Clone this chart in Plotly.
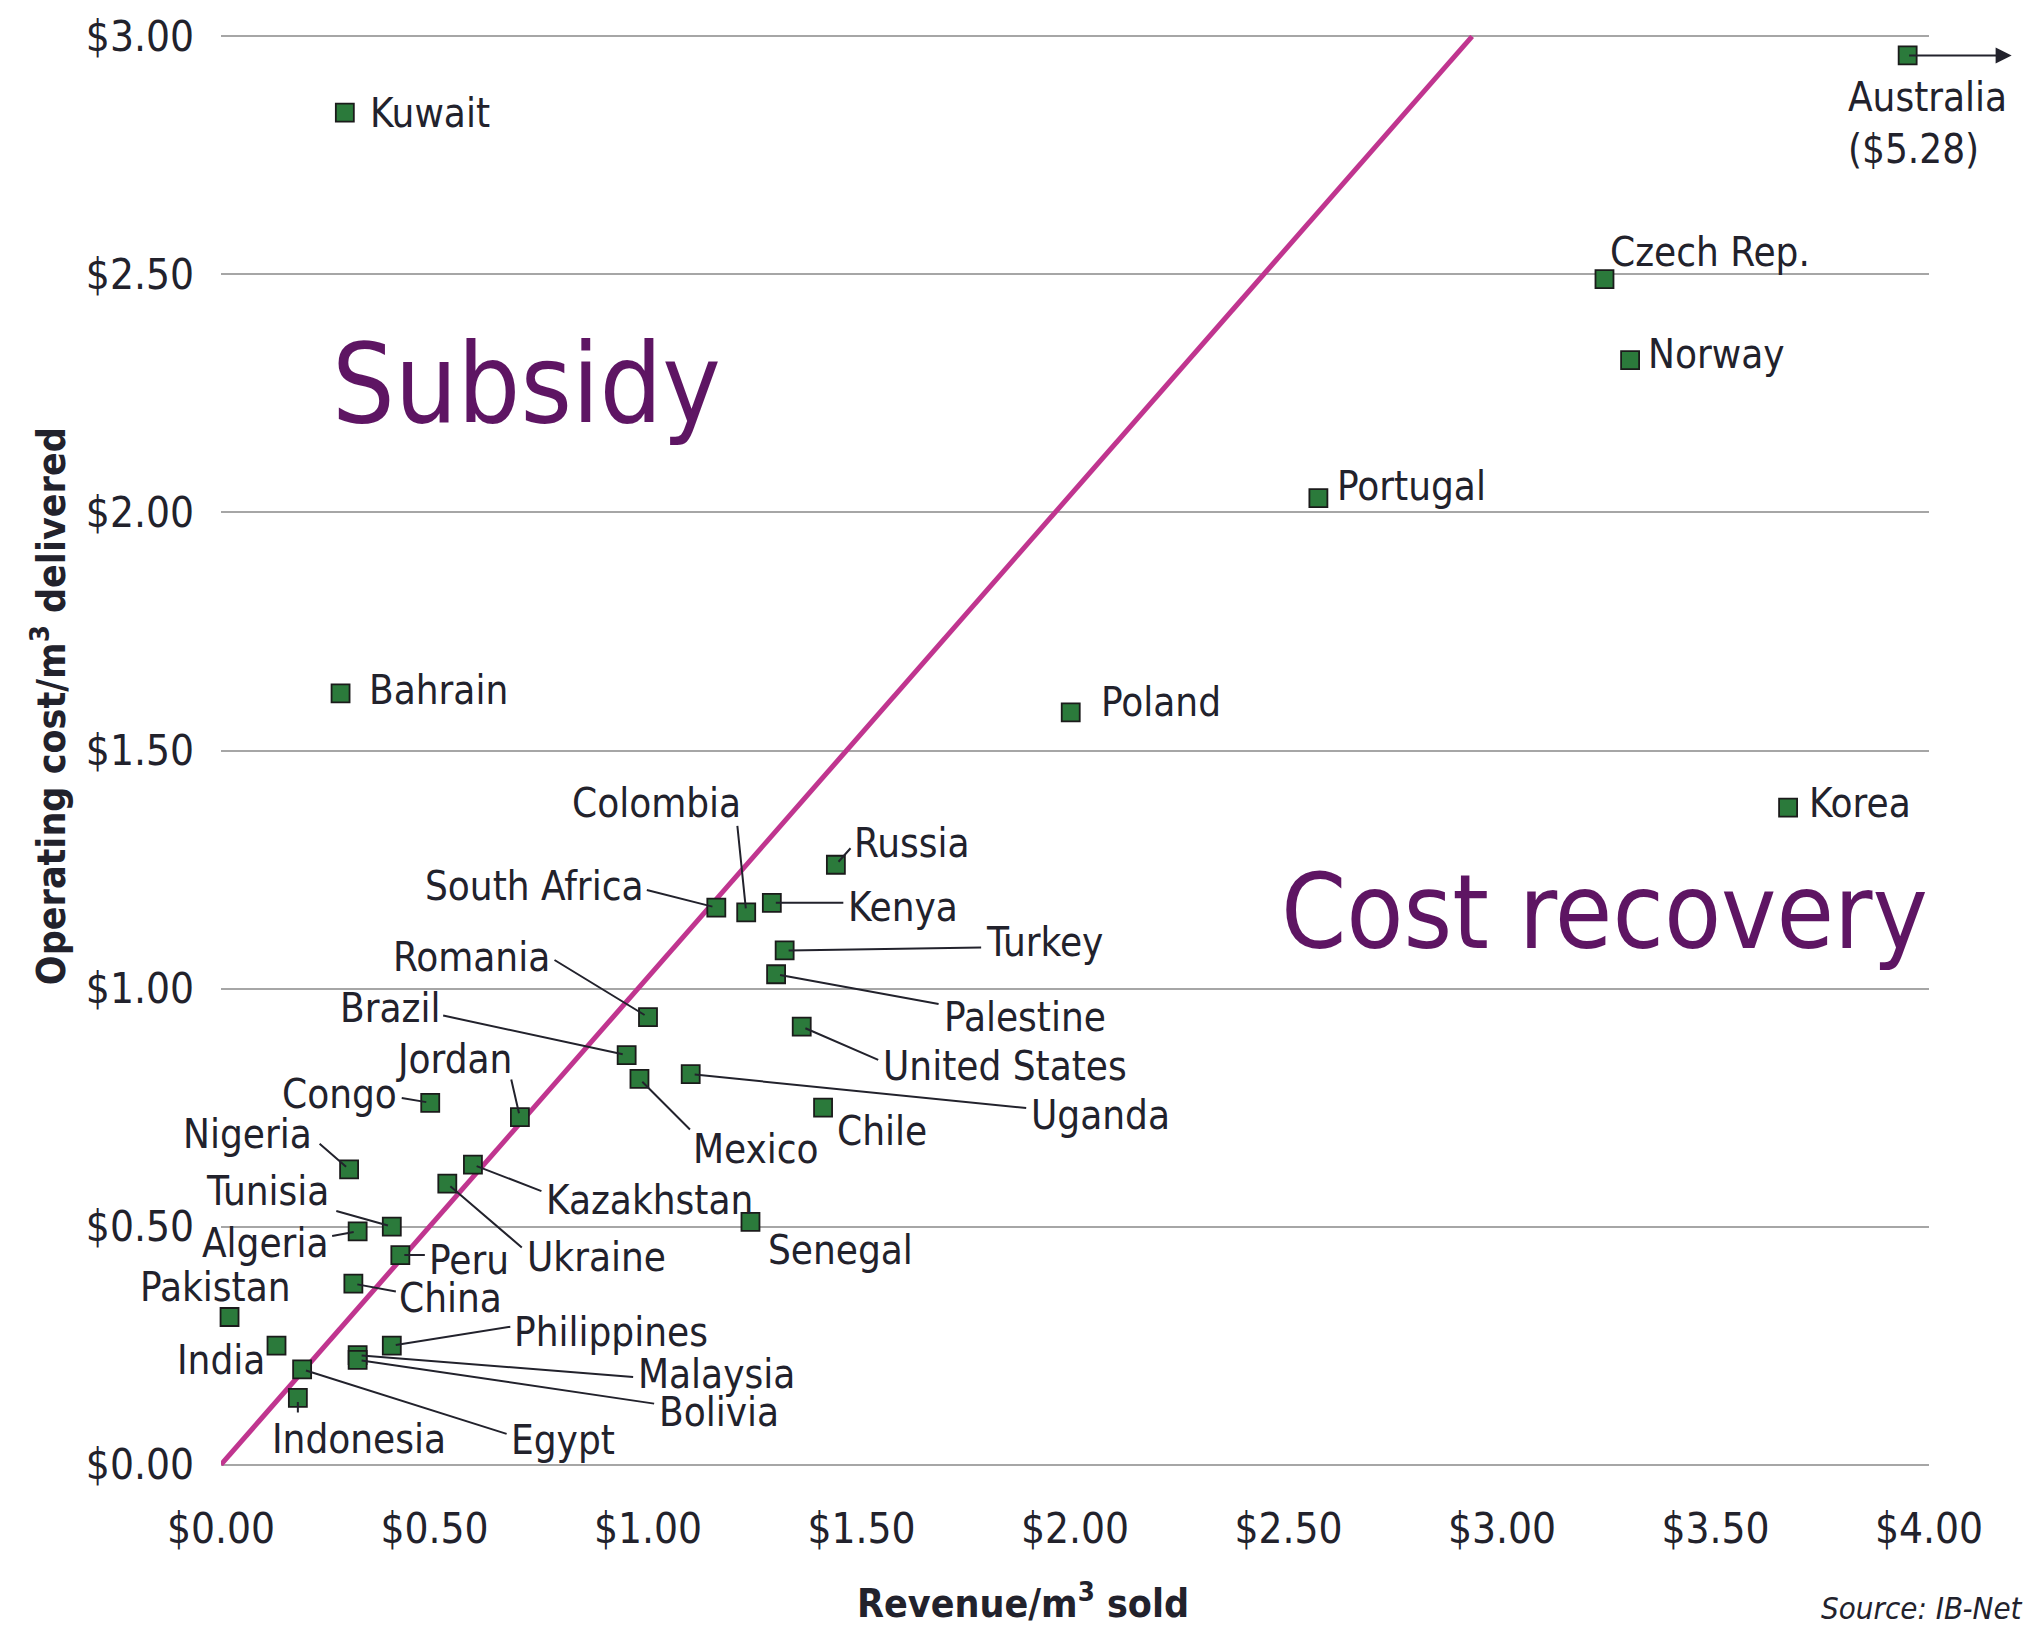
import plotly.graph_objects as go

# ---- data: revenue per m3 sold vs operating cost per m3 delivered (US$) ----
countries = [
    "Kuwait", "Australia", "Czech Rep.", "Norway", "Portugal", "Bahrain",
    "Poland", "Korea", "Russia", "Colombia", "South Africa", "Kenya",
    "Turkey", "Palestine", "Romania", "United States", "Brazil", "Jordan",
    "Mexico", "Uganda", "Congo", "Chile", "Nigeria", "Kazakhstan",
    "Ukraine", "Tunisia", "Algeria", "Senegal", "Peru", "China",
    "Pakistan", "India", "Philippines", "Malaysia", "Bolivia", "Egypt",
    "Indonesia",
]
revenue = [
    0.29, 5.28, 3.24, 3.30, 2.57, 0.28,
    1.99, 3.67, 1.44, 1.23, 1.16, 1.29,
    1.32, 1.30, 1.00, 1.36, 0.95, 0.70,
    0.98, 1.10, 0.49, 1.41, 0.30, 0.59,
    0.53, 0.40, 0.32, 1.24, 0.42, 0.31,
    0.02, 0.13, 0.40, 0.32, 0.32, 0.19,
    0.18,
]
op_cost = [
    2.84, 2.96, 2.49, 2.32, 2.03, 1.62,
    1.58, 1.38, 1.26, 1.16, 1.17, 1.18,
    1.08, 1.03, 0.94, 0.92, 0.86, 0.73,
    0.81, 0.82, 0.76, 0.75, 0.62, 0.63,
    0.59, 0.50, 0.49, 0.51, 0.44, 0.38,
    0.31, 0.25, 0.25, 0.23, 0.22, 0.20,
    0.14,
]

# break-even reference line
parity_x = [0.0, 2.93]
parity_y = [0.0, 3.00]

x_ticks = [0.0, 0.5, 1.0, 1.5, 2.0, 2.5, 3.0, 3.5, 4.0]
y_ticks = [0.0, 0.5, 1.0, 1.5, 2.0, 2.5, 3.0]

# ---- styling ----
NARROW = "Liberation Sans Narrow, DejaVu Sans Condensed, sans-serif"
INK = "#22222c"
PURPLE = "#5e1563"
MAGENTA = "#c0358f"
GREEN = "#2b7a3b"
GRID = "#a6a6a6"
X_EDGE = 3.95  # off-scale values are pinned here and flagged with an arrow

# label placement: text offset (px, right/down), text anchor, leader end (px) or None
LABELS = {
    "Kuwait": (23, 0, "left", None),
    "Australia": (-62, 17, "left", None),
    "Czech Rep.": (4, -27, "left", None),
    "Norway": (16, -6, "left", None),
    "Portugal": (17, -12, "left", None),
    "Bahrain": (26, -3, "left", None),
    "Poland": (28, -10, "left", None),
    "Korea": (19, -5, "left", None),
    "Russia": (16, -22, "left", (16, -18)),
    "Colombia": (-3, -109, "right", (-9, -88)),
    "South Africa": (-71, -22, "right", (-71, -18)),
    "Kenya": (74, 4, "left", (73, 0)),
    "Turkey": (199, -8, "left", (198, -3)),
    "Palestine": (166, 43, "left", (164, 30)),
    "Romania": (-96, -60, "right", (-95, -58)),
    "United States": (79, 39, "left", (78, 34)),
    "Brazil": (-185, -47, "right", (-185, -40)),
    "Jordan": (-6, -58, "right", (-9, -39)),
    "Mexico": (52, 70, "left", (52, 52)),
    "Uganda": (338, 41, "left", (337, 34)),
    "Congo": (-31, -9, "right", (-30, -5)),
    "Chile": (12, 23, "left", None),
    "Nigeria": (-35, -35, "right", (-31, -27)),
    "Kazakhstan": (71, 35, "left", (70, 27)),
    "Ukraine": (78, 73, "left", (76, 65)),
    "Tunisia": (-61, -36, "right", (-57, -16)),
    "Algeria": (-28, 12, "right", (-27, 5)),
    "Senegal": (16, 28, "left", None),
    "Peru": (27, 5, "left", (26, 0)),
    "China": (44, 14, "left", (44, 8)),
    "Pakistan": (63, -30, "right", None),
    "India": (-10, 14, "right", None),
    "Philippines": (120, -14, "left", (120, -19)),
    "Malaysia": (278, 19, "left", (277, 22)),
    "Bolivia": (299, 52, "left", (298, 44)),
    "Egypt": (207, 71, "left", (206, 65)),
    "Indonesia": (61, 41, "center", (0, 16)),
}

x_drawn = [min(v, X_EDGE) for v in revenue]

fig = go.Figure()

fig.add_trace(go.Scatter(
    x=parity_x, y=parity_y, mode="lines",
    line=dict(color=MAGENTA, width=5),
    hoverinfo="skip", showlegend=False,
))

fig.add_trace(go.Scatter(
    x=x_drawn, y=op_cost, mode="markers", text=countries,
    marker=dict(symbol="square", size=18, color=GREEN,
                line=dict(color="#1b1b1b", width=1.8)),
    cliponaxis=False, showlegend=False,
    hovertemplate="%{text}<extra></extra>",
))

label_font = dict(family=NARROW, size=40, color=INK)

for name, xd, xv, yv in zip(countries, x_drawn, revenue, op_cost):
    tx, ty, anchor, leader = LABELS[name]
    if leader is not None:
        lx, ly = leader
        fig.add_annotation(
            x=xd, y=yv, xref="x", yref="y", ax=lx, ay=ly, text="",
            showarrow=True, arrowhead=0, arrowwidth=2, arrowcolor=INK,
            standoff=4,
        )
    if xv > X_EDGE:
        text = f"{name}<br>(${xv:.2f})"
        fig.add_annotation(
            x=xd, y=yv, xref="x", yref="y", text="", showarrow=True,
            xshift=104, ax=-104, ay=0, arrowhead=2, arrowsize=1.6,
            arrowwidth=2, arrowcolor=INK, standoff=0,
        )
        yanchor = "top"
    else:
        text = name
        yanchor = "middle"
    fig.add_annotation(
        x=xd, y=yv, xref="x", yref="y", text=text, showarrow=False,
        xanchor=anchor, yanchor=yanchor, xshift=tx, yshift=-ty,
        align="left", font=label_font,
    )

# region captions
fig.add_annotation(x=0.716, y=2.27, xref="x", yref="y", text="Subsidy",
                   showarrow=False, xanchor="center", yanchor="middle",
                   font=dict(family=NARROW, size=110, color=PURPLE))
fig.add_annotation(x=3.241, y=1.16, xref="x", yref="y", text="Cost recovery",
                   showarrow=False, xanchor="center", yanchor="middle",
                   font=dict(family=NARROW, size=104, color=PURPLE))

# axis titles and source note
title_font = dict(family=NARROW, size=39, color=INK, weight="bold")
fig.add_annotation(x=0.4695, y=0, xref="paper", yref="paper",
                   text="Revenue/m<sup>3</sup> sold", showarrow=False,
                   xanchor="center", yanchor="middle", yshift=-135,
                   font=title_font)
fig.add_annotation(x=0, y=0.531, xref="paper", yref="paper",
                   text="Operating cost/m<sup>3</sup> delivered",
                   showarrow=False, textangle=-90, xanchor="center",
                   yanchor="middle", xshift=-172, font=title_font)
fig.add_annotation(x=1.0564, y=0, xref="paper", yref="paper",
                   text="<i>Source: IB-Net</i>", showarrow=False,
                   xanchor="right", yanchor="middle", yshift=-142,
                   font=dict(family=NARROW, size=31, color=INK))

tick_font = dict(family=NARROW, size=42, color=INK)
fig.update_xaxes(
    range=[0, 4], tickvals=x_ticks, ticktext=[f"${v:.2f}" for v in x_ticks],
    showgrid=False, zeroline=False, showline=False, ticks="",
    ticklabelstandoff=34, tickfont=tick_font,
)
fig.update_yaxes(
    range=[-0.003, 3.003], tickvals=y_ticks,
    ticktext=[f"${v:.2f}" for v in y_ticks],
    showgrid=True, gridcolor=GRID, gridwidth=2, zeroline=False,
    showline=False, ticks="", ticklabelstandoff=26, tickfont=tick_font,
)

fig.update_layout(
    width=2031, height=1629,
    margin=dict(l=221, r=102, t=35, b=163),
    paper_bgcolor="white", plot_bgcolor="white",
    showlegend=False,
)

fig.write_html("out.html")
